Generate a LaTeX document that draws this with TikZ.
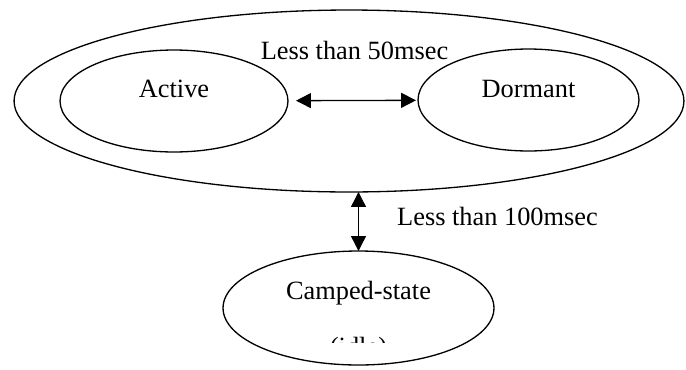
\documentclass[tikz,border=0pt]{standalone}
\usepackage{fontspec}
\setmainfont{Liberation Serif}
\usetikzlibrary{shapes.geometric,arrows.meta}

\begin{document}
\begin{tikzpicture}[x=0.02cm,y=-0.02cm,
        state/.style={draw,ellipse,line width=0.75pt,inner sep=0pt,outer sep=0pt},
        link/.style={{Triangle[length=0.3cm,width=0.3cm]}-{Triangle[length=0.3cm,width=0.3cm]},line width=0.75pt},
        every node/.append style={font=\fontsize{15}{18}\selectfont}]
    \useasboundingbox (0,0) rectangle (686,369);
    \node[state,minimum width=13.4cm,minimum height=3.64cm] (outer) at (349,101) {};
    \node[state,minimum width=4.56cm,minimum height=2.04cm] (active) at (174,101) {};
    \node[state,minimum width=4.42cm,minimum height=2.04cm] (dormant) at (528.5,100) {};
    \node[state,minimum width=5.42cm,minimum height=2.28cm] (camped) at (358.5,308) {};
    \node[anchor=base] (activetext) at (174,97) {Active};
    \node[anchor=base] (dormanttext) at (528.5,97) {Dormant};
    \node[anchor=base] (campedtext) at (358.5,299) {Camped-state};
    \begin{scope}
        \clip (0,0) rectangle (686,342);
        \node[anchor=base] (idletext) at (358.5,355) {(idle)};
    \end{scope}
    \node[anchor=base] (fastlabel) at (354.5,59) {Less than 50msec};
    \node[anchor=base] (slowlabel) at (497.5,225) {Less than 100msec};
    \draw[link,shorten <=0.16cm,shorten >=0.04cm] (active) -- (dormant);
    \draw[link] (camped.north) -- (camped.north |- outer.south);
\end{tikzpicture}
\end{document}
